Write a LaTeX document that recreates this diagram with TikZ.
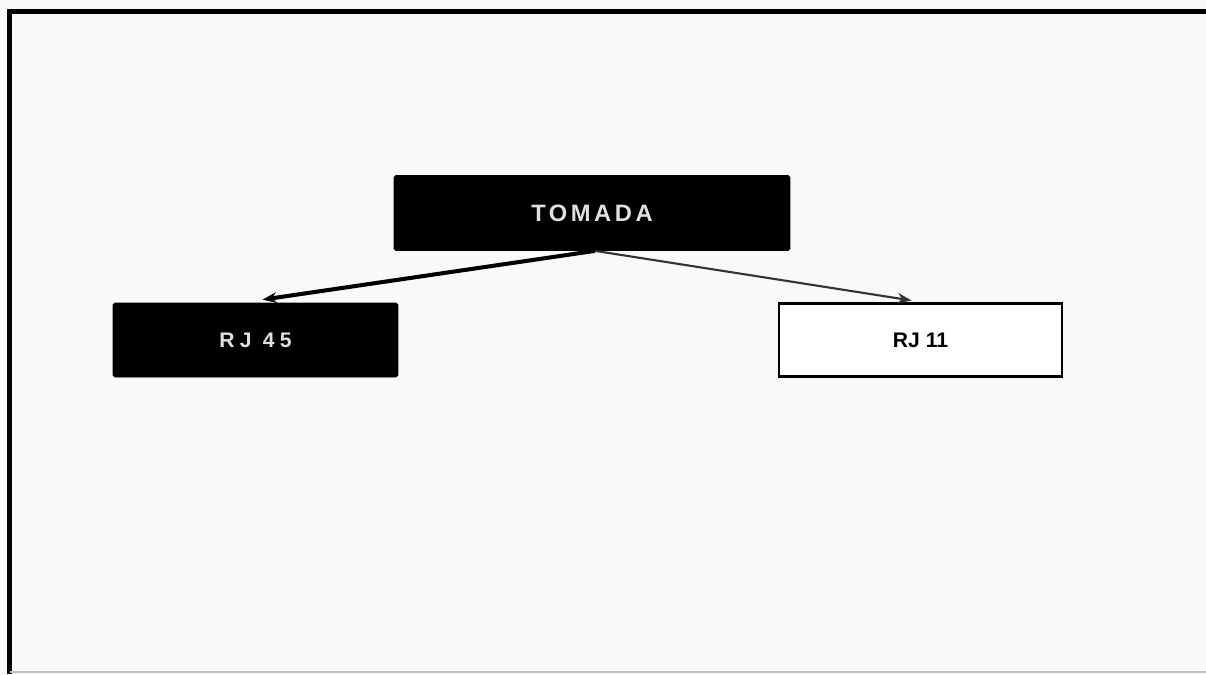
\documentclass[tikz,border=0pt]{standalone}
\usepackage{fontspec}
\setmainfont{Liberation Sans}
\newfontfamily\wideface[LetterSpace=15]{Liberation Sans}
\newfontfamily\widerface[LetterSpace=25]{Liberation Sans}
\usetikzlibrary{arrows.meta}
\usetikzlibrary{calc}
\definecolor{pagebg}{gray}{0.975}
\definecolor{paletext}{gray}{0.88}
\tikzset{
darkbox/.style = {draw=black, fill=black, text=paletext, rounded corners=1pt,
                  minimum width=#1, minimum height=1.48cm, inner sep=0pt,
                  font=\widerface\bfseries\fontsize{12}{14}\selectfont},
darkbox/.default = 5.7cm, % box width
lightbox/.style = {draw=black, line width=1.2pt, fill=white, minimum width=5.66cm,
                   minimum height=1.46cm, inner sep=0pt,
                   font=\bfseries\fontsize{12}{14}\selectfont},
feed/.style = {-{Stealth[length=8pt, width=6pt]}, line width=#1},
feed/.default = 1pt
}
\newcommand{\feedline}[3]{\draw[#1] (#2) -- (#3);}

\begin{document}
\begin{tikzpicture}[x=0.02cm, y=-0.02cm]
    \useasboundingbox (0,0) rectangle (1206,674);
    \fill[pagebg] (0,0) rectangle (1206,674);
    \draw[line width=2.8pt] (1206,11.5) -- (9.5,11.5) -- (9.5,674);
    \draw[black!25, line width=1pt] (9.5,672) -- (1206,672);

    \node[darkbox=7.92cm, minimum height=1.5cm,
          font=\wideface\bfseries\fontsize{13.5}{16}\selectfont] (tomada) at (592,213) {TOMADA};
    \node[darkbox] (rj45) at (255.5,340) {RJ 45};
    \node[lightbox] (rj11) at (920.5,340) {RJ 11};

    \coordinate (split) at ($(tomada.south)+(3,0)$);
    \feedline{feed=2.3pt}{split}{$(rj45.north)+(7,-3)$}
    \feedline{feed=1.2pt, black!80}{split}{$(rj11.north)+(-9,-2)$}
\end{tikzpicture}
\end{document}
